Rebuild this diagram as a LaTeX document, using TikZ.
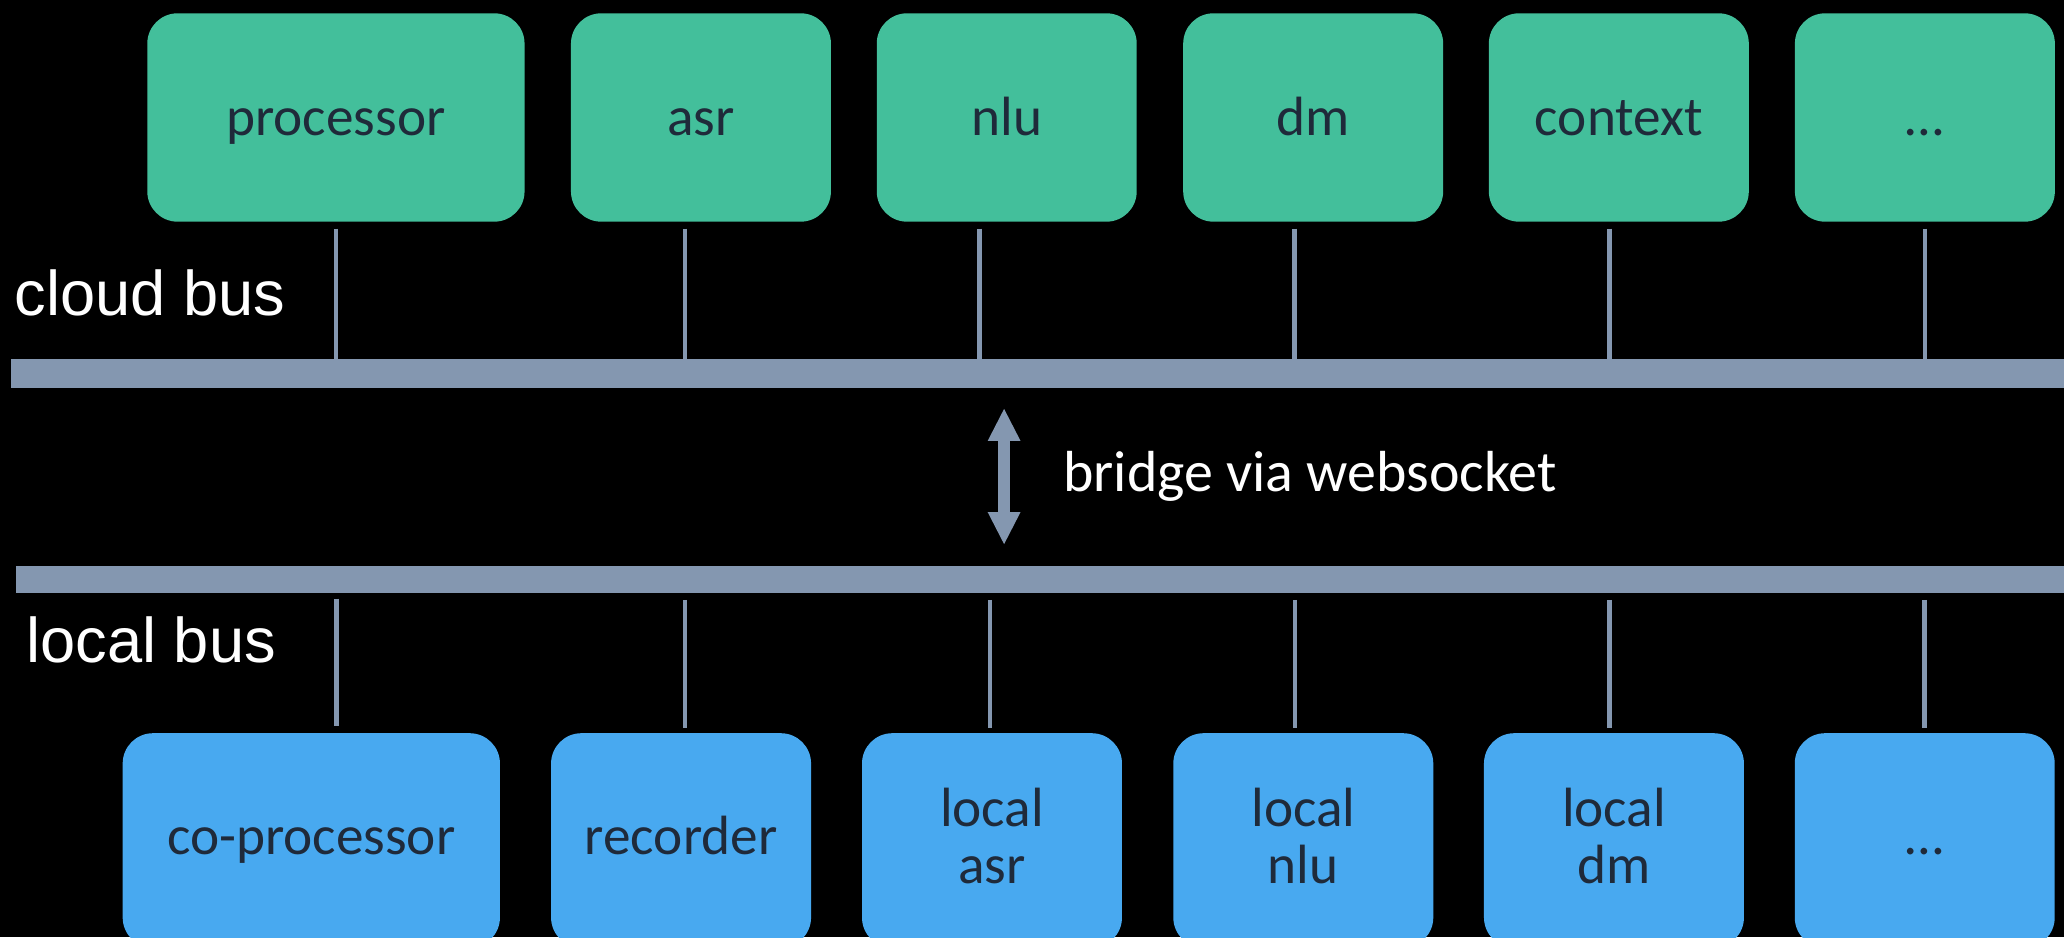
\documentclass[tikz,border=0pt]{standalone}
\usepackage{fontspec}
\setmainfont{Carlito}
\newfontfamily\arialfont{Liberation Sans}
\usetikzlibrary{arrows.meta}
\definecolor{boxgreen}{HTML}{43BF9B}
\definecolor{boxblue}{HTML}{48A9F0}
\definecolor{busgray}{HTML}{8497B0}
\definecolor{labeldark}{HTML}{1F2A3A}
\newcommand\toplbl[1]{\rule{0pt}{36pt}#1\rule[-9pt]{0pt}{9pt}}
\newcommand\botlbl[1]{\rule{0pt}{32pt}#1\rule[-10pt]{0pt}{10pt}}
\begin{document}
\begin{tikzpicture}[x=1pt,y=-1pt,
  box/.style={rectangle, rounded corners=23pt, inner sep=0pt, align=center, text=labeldark, font=\fontsize{42}{43}\selectfont},
  topbox/.style={box, fill=boxgreen, minimum height=158.3pt},
  botbox/.style={box, fill=boxblue, minimum height=163pt},
  wide/.style={minimum width=286.6pt},
  narrow/.style={minimum width=197.5pt},
  bus/.style={rectangle, fill=busgray, inner sep=0pt, anchor=north west},
  conn/.style={draw=busgray, line width=3.5pt},
  buslabel/.style={text=white, font=\arialfont\fontsize{48}{58}\selectfont, inner sep=0pt, anchor=base west},
  bridgearrow/.style={draw=busgray, line width=9pt, {Triangle[length=25pt,width=23pt]}-{Triangle[length=25pt,width=23pt]}}
]
\fill[black] (0,0) rectangle (1568,712);
\useasboundingbox (0,0) rectangle (1568,712);

% cloud side
\node[topbox,wide]   (proc)  at (255.2,89.25)  {\toplbl{processor}};
\node[topbox,narrow] (asr)   at (532.5,89.25)  {\toplbl{asr}};
\node[topbox,narrow] (nlu)   at (764.8,89.25)  {\toplbl{nlu}};
\node[topbox,narrow] (dm)    at (997.6,89.25)  {\toplbl{dm}};
\node[topbox,narrow] (ctx)   at (1229.8,89.25) {\toplbl{context}};
\node[topbox,narrow] (tmore) at (1462.3,89.25) {\toplbl{…}};

% buses
\node[bus, minimum width=1559.5pt, minimum height=21.7pt] (cloudbus) at (8.5,272.8) {};
\node[bus, minimum width=1555.8pt, minimum height=20.3pt] (localbus) at (12.2,430) {};

% local side
\node[botbox,wide]   (cop)   at (236.5,638.5)  {\botlbl{co-processor}};
\node[botbox,narrow] (rec)   at (517.4,638.5)  {\botlbl{recorder}};
\node[botbox,narrow] (lasr)  at (753.6,638.5)  {\botlbl{local\\asr}};
\node[botbox,narrow] (lnlu)  at (990.1,638.5)  {\botlbl{local\\nlu}};
\node[botbox,narrow] (ldm)   at (1226.1,638.5) {\botlbl{local\\dm}};
\node[botbox,narrow] (bmore) at (1462.2,638.5) {\botlbl{…}};

% labels
\node[buslabel] (cloudlbl) at (11,239.3) {cloud bus};
\node[buslabel] (locallbl) at (20,503.4) {local bus};
\node[text=white, font=\fontsize{44}{50}\selectfont, inner sep=0pt, anchor=base west] (bridge) at (807.5,373.5) {bridge via websocket};

% cloud connectors
\draw[conn] ([yshift=-5pt]proc.south) -- (proc.south |- cloudbus.north);
\draw[conn] ([xshift=-12pt,yshift=-5pt]asr.south) -- ([xshift=-12pt]asr.south |- cloudbus.north);
\draw[conn] ([xshift=-20.5pt,yshift=-5pt]nlu.south) -- ([xshift=-20.5pt]nlu.south |- cloudbus.north);
\draw[conn] ([xshift=-14pt,yshift=-5pt]dm.south) -- ([xshift=-14pt]dm.south |- cloudbus.north);
\draw[conn] ([xshift=-7pt,yshift=-5pt]ctx.south) -- ([xshift=-7pt]ctx.south |- cloudbus.north);
\draw[conn] ([yshift=-5pt]tmore.south) -- (tmore.south |- cloudbus.north);

% local connectors
\draw[conn] ([xshift=19pt,yshift=-4pt]cop.north |- localbus.south) -- ([xshift=19pt,yshift=5pt]cop.north);
\draw[conn] ([xshift=3pt,yshift=-5pt]rec.north |- localbus.south) -- ([xshift=3pt,yshift=4pt]rec.north);
\draw[conn] ([xshift=-1.6pt,yshift=-5pt]lasr.north |- localbus.south) -- ([xshift=-1.6pt,yshift=4pt]lasr.north);
\draw[conn] ([xshift=-6.3pt,yshift=-5pt]lnlu.north |- localbus.south) -- ([xshift=-6.3pt,yshift=4pt]lnlu.north);
\draw[conn] ([xshift=-3.3pt,yshift=-5pt]ldm.north |- localbus.south) -- ([xshift=-3.3pt,yshift=4pt]ldm.north);
\draw[conn] ([yshift=-5pt]bmore.north |- localbus.south) -- ([yshift=4pt]bmore.north);

% bridge arrow
\coordinate (bt) at (762.8,310);
\coordinate (bb) at (762.8,414);
\draw[bridgearrow] (bt) -- (bb);
\end{tikzpicture}
\end{document}
